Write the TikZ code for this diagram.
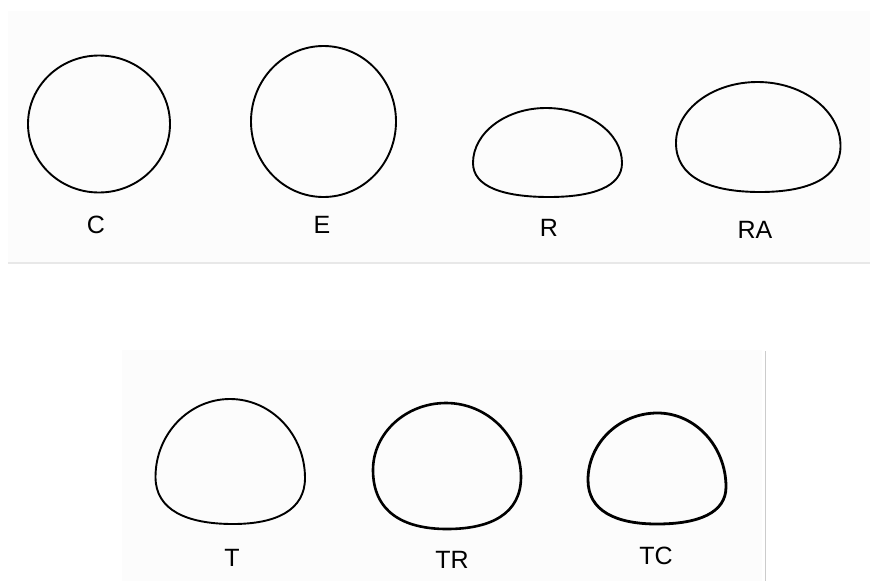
\documentclass[tikz,border=0pt]{standalone}
\usepackage{fontspec}
\setmainfont{Liberation Sans}
\usetikzlibrary{calc}
\newcommand\mydome[8][]{%
  \coordinate (DT) at #2;
  \coordinate (DR) at #3;
  \coordinate (DB) at #4;
  \coordinate (DL) at #5;
  \coordinate (DTR) at (DT -| DR);
  \coordinate (DTL) at (DT -| DL);
  \coordinate (DBR) at (DB -| DR);
  \coordinate (DBL) at (DB -| DL);
  \draw[shape line,#1] (DT)
    .. controls ($(DT)!#6!(DTR)$) and ($(DR)!#6!(DTR)$) .. (DR)
    .. controls ($(DR)!#7!(DBR)$) and ($(DB)!#8!(DBR)$) .. (DB)
    .. controls ($(DB)!#8!(DBL)$) and ($(DL)!#7!(DBL)$) .. (DL)
    .. controls ($(DL)!#6!(DTL)$) and ($(DT)!#6!(DTL)$) .. cycle;
}
\tikzset{
  shape line/.style={draw=black, line width=1.9pt, line join=round},
  label text/.style={anchor=base, inner sep=0pt, font=\fontsize{25}{30}\selectfont},
  panel/.style={fill=black!1.3, draw=none},
}
\begin{document}
\begin{tikzpicture}[x=1pt,y=-1pt]
\useasboundingbox (0,0) rectangle (870,581);
\fill[white] (0,0) rectangle (870,581);
% faint scanned panels
\path[panel] (8,11) rectangle (870,262);
\path[panel] (122,350) rectangle (762,581);
% faint separators
\draw[black!9, line width=2pt] (8,263) -- (870,263);
\draw[black!20, line width=1pt] (765,351) -- (765,581);
% top row
\draw[shape line] (99,124) ellipse [x radius=71, y radius=68.5];
\draw[shape line] (323.5,121.5) ellipse [x radius=72.5, y radius=75.5];
\mydome{(546,108)}{(622,163)}{(549,197)}{(473,163)}{0.55}{0.7}{0.6}
\mydome{(757.5,82)}{(840.5,146)}{(760,192)}{(676,143)}{0.55}{0.7}{0.6}
% bottom row
\mydome{(230,399)}{(305,478)}{(233,524)}{(155.5,477)}{0.55}{0.7}{0.6}
\mydome[line width=2.6pt]{(446,403)}{(521,477)}{(447,529)}{(373,470)}{0.55}{0.7}{0.6}
\mydome[line width=2.8pt]{(657.5,413)}{(726,487)}{(657,524)}{(588,480)}{0.55}{0.7}{0.6}
% labels
\node[label text] (lblC) at (96,233) {C};
\node[label text] (lblE) at (322,233) {E};
\node[label text] (lblR) at (549,236) {R};
\node[label text] (lblRA) at (755,238) {RA};
\node[label text] (lblT) at (232,566) {T};
\node[label text] (lblTR) at (452,568) {TR};
\node[label text] (lblTC) at (656,564) {TC};
\end{tikzpicture}
\end{document}
